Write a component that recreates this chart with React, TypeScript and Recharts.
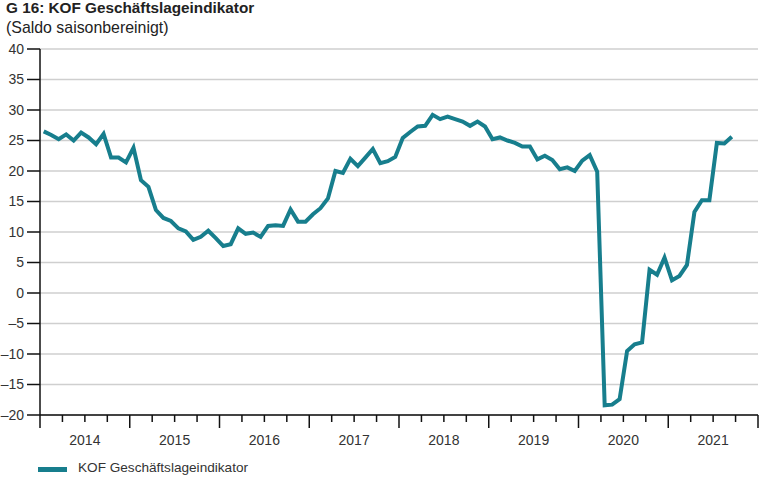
import React from "react";
import { LineChart, Line, XAxis, YAxis, CartesianGrid } from "recharts";

const startYear = 2014;
const years = [2014, 2015, 2016, 2017, 2018, 2019, 2020, 2021];
const v2014 = [26.5, 25.9, 25.2, 26.0, 25.0, 26.3, 25.5, 24.4, 26.1, 22.2, 22.2, 21.4];
const v2015 = [23.8, 18.5, 17.4, 13.6, 12.3, 11.8, 10.6, 10.1, 8.7, 9.2, 10.2, 9.0];
const v2016 = [7.7, 8.0, 10.6, 9.7, 9.9, 9.2, 11.0, 11.1, 11.0, 13.7, 11.7, 11.7];
const v2017 = [12.9, 13.9, 15.5, 20.0, 19.7, 22.0, 20.8, 22.2, 23.6, 21.3, 21.6, 22.3];
const v2018 = [25.4, 26.4, 27.3, 27.4, 29.2, 28.5, 28.9, 28.5, 28.1, 27.4, 28.1, 27.3];
const v2019 = [25.2, 25.5, 25.0, 24.6, 24.0, 24.0, 21.9, 22.5, 21.8, 20.3, 20.6, 20.0];
const v2020 = [21.7, 22.6, 19.9, -18.4, -18.3, -17.4, -9.5, -8.4, -8.1, 3.8, 3.0, 5.8];
const v2021 = [2.1, 2.8, 4.6, 13.3, 15.2, 15.2, 24.6, 24.5, 25.6];

const yTicks = [-20, -15, -10, -5, 0, 5, 10, 15, 20, 25, 30, 35, 40];
const seriesName = "KOF Geschäftslageindikator";
const title = "G 16: KOF Geschäftslageindikator";
const subtitle = "(Saldo saisonbereinigt)";

const allValues = [v2014, v2015, v2016, v2017, v2018, v2019, v2020, v2021];
const data = allValues.flat().map((v, i) => ({ t: i + 0.5, v }));
const xTicks: number[] = [];
for (let m = 0; m <= years.length * 12; m += 3) xTicks.push(m);

const FONT = '"Liberation Sans", Arial, Helvetica, sans-serif';
const TEAL = "#177e8d";
const TEXT = "#333333";

const XTick = (props: any) => {
  const { x, y, payload } = props;
  const v = payload.value as number;
  const major = v % 12 === 0;
  return (
    <g>
      <line x1={x} x2={x} y1={y} y2={y + (major ? 13 : 7)} stroke="#111" strokeWidth={1.5} />
      {v % 12 === 6 && (
        <text x={x} y={y + 30} textAnchor="middle" fill={TEXT} fontSize={14} fontFamily={FONT}>
          {startYear + (v - 6) / 12}
        </text>
      )}
    </g>
  );
};

const fmtY = (v: number) => (v < 0 ? "\u2013" + Math.abs(v) : String(v));

export default function App() {
  return (
    <div style={{ position: "absolute", left: 0, top: 0, width: 760, height: 479, background: "#fff", fontFamily: FONT }}>
      <div style={{ position: "absolute", left: 6, top: -1, fontSize: 15.3, fontWeight: "bold", lineHeight: "18px", color: "#222", whiteSpace: "nowrap" }}>
        {title}
      </div>
      <div style={{ position: "absolute", left: 6, top: 18.5, fontSize: 15.9, lineHeight: "18px", color: "#222", whiteSpace: "nowrap" }}>
        {subtitle}
      </div>
      <LineChart width={760} height={479} data={data} margin={{ top: 49, right: 2, bottom: 24, left: 0 }}>
        <CartesianGrid vertical={false} stroke="#cfcfcf" strokeWidth={1.5} />
        <XAxis
          type="number"
          dataKey="t"
          domain={[0, years.length * 12]}
          ticks={xTicks}
          interval={0}
          height={40}
          tickSize={0}
          tickMargin={0}
          tickLine={false}
          axisLine={{ stroke: "#111", strokeWidth: 1.5 }}
          tick={<XTick />}
        />
        <YAxis
          type="number"
          domain={[-20, 40]}
          ticks={yTicks}
          interval={0}
          width={40}
          tickSize={13}
          tickMargin={3}
          tickFormatter={fmtY}
          tickLine={{ stroke: "#111", strokeWidth: 1.5 }}
          axisLine={{ stroke: "#111", strokeWidth: 1.5 }}
          tick={{ fill: TEXT, fontSize: 14, fontFamily: FONT }}
        />
        <Line
          type="linear"
          dataKey="v"
          name={seriesName}
          stroke={TEAL}
          strokeWidth={4}
          dot={false}
          activeDot={false}
          isAnimationActive={false}
        />
      </LineChart>
      <div style={{ position: "absolute", left: 38, top: 467, width: 29, height: 5, background: TEAL }} />
      <div style={{ position: "absolute", left: 78, top: 460, fontSize: 13.6, lineHeight: "16px", color: TEXT, whiteSpace: "nowrap" }}>
        {seriesName}
      </div>
    </div>
  );
}
